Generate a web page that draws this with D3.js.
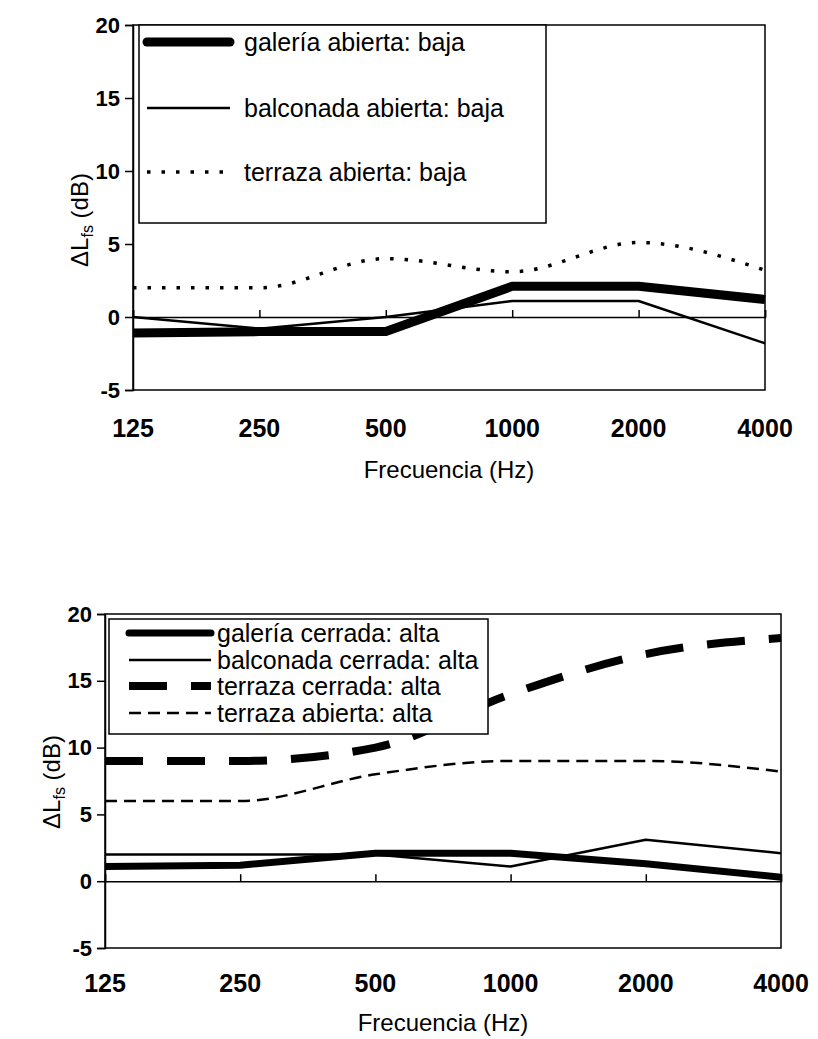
<!DOCTYPE html>
<html>
<head>
<meta charset="utf-8">
<script src="https://cdn.jsdelivr.net/npm/d3@7/dist/d3.min.js"></script>
<style>
  body { margin: 0; background: #fff; }
  svg { display: block; }
</style>
</head>
<body>
<div id="chart"></div>
<script>
// frequency bands (x categories)
var freqs = ["125", "250", "500", "1000", "2000", "4000"];
var yTicks = [-5, 0, 5, 10, 15, 20];

// top chart: low floors (baja)
var galeriaAbiertaBaja = [-1.1, -1, -1, 2.1, 2.1, 1.2];
var balconadaAbiertaBaja = [0, -0.8, 0, 1.1, 1.1, -1.8];
var terrazaAbiertaBaja = [2, 2, 4, 3.1, 5.1, 3.2];

// bottom chart: high floors (alta)
var galeriaCerradaAlta = [1.1, 1.2, 2.1, 2.1, 1.3, 0.3];
var balconadaCerradaAlta = [2, 2, 2, 1.1, 3.1, 2.1];
var terrazaCerradaAlta = [9, 9, 10, 14, 17, 18.2];
var terrazaAbiertaAlta = [6, 6, 8, 9, 9, 8.2];

var fontFamily = "'Liberation Sans', Arial, sans-serif";

var svg = d3.select("#chart").append("svg")
  .attr("width", 818)
  .attr("height", 1039);

function drawChart(params) {
  var box = params.box;
  var legendBox = params.legend;
  var series = params.series;

  var x = d3.scalePoint().domain(freqs).range([box.left, box.right]);
  var y = d3.scaleLinear().domain([-5, 20]).range([box.bottom, box.top]);

  var g = svg.append("g");

  // plot area border
  g.append("rect")
    .attr("x", box.left).attr("y", box.top)
    .attr("width", box.right - box.left).attr("height", box.bottom - box.top)
    .attr("fill", "none").attr("stroke", "#000").attr("stroke-width", 1.5);

  // y axis ticks + labels (plain hyphen for negatives, like the original)
  var yAxis = d3.axisLeft(y).tickValues(yTicks).tickSize(8).tickPadding(5)
    .tickFormat(function (d) { return String(d); });
  g.append("g")
    .attr("transform", "translate(" + box.left + ",0)")
    .call(yAxis)
    .call(function (a) {
      a.select(".domain").attr("stroke-width", 1.5);
      a.selectAll(".tick line").attr("stroke-width", 1.5);
      a.selectAll("text")
        .attr("font-family", fontFamily)
        .attr("font-size", 22)
        .attr("font-weight", "bold")
        .attr("fill", "#000");
    });

  // x axis crosses at 0, ticks upward, labels low
  var xAxis = d3.axisTop(x).tickSize(7).tickFormat("");
  g.append("g")
    .attr("transform", "translate(0," + y(0) + ")")
    .call(xAxis)
    .call(function (a) {
      a.select(".domain").attr("stroke-width", 1.5);
      a.selectAll(".tick line").attr("stroke-width", 1.5);
    });

  g.selectAll(".xlab")
    .data(freqs)
    .enter().append("text")
    .attr("x", function (d) { return x(d); })
    .attr("y", params.xLabelY)
    .attr("text-anchor", "middle")
    .attr("font-family", fontFamily)
    .attr("font-size", 25)
    .attr("font-weight", "bold")
    .text(function (d) { return d; });

  // axis titles
  g.append("text")
    .attr("x", (box.left + box.right) / 2)
    .attr("y", params.xTitleY)
    .attr("text-anchor", "middle")
    .attr("font-family", fontFamily)
    .attr("font-size", 24)
    .text("Frecuencia (Hz)");

  var yt = g.append("text")
    .attr("transform", "translate(" + (box.left - 45) + "," + params.yTitleY + ") rotate(-90)")
    .attr("text-anchor", "middle")
    .attr("font-family", fontFamily)
    .attr("font-size", 24);
  yt.append("tspan").text("\u0394L");
  yt.append("tspan").attr("font-size", 16).attr("dy", 5).text("fs");
  yt.append("tspan").attr("dy", -5).text(" (dB)");

  // lines
  series.forEach(function (s) {
    var line = d3.line()
      .x(function (d, i) { return x(freqs[i]); })
      .y(function (d) { return y(d); })
      .curve(s.smooth ? d3.curveMonotoneX : d3.curveLinear);
    g.append("path")
      .datum(s.values)
      .attr("d", line)
      .attr("fill", "none")
      .attr("stroke", "#000")
      .attr("stroke-width", s.width)
      .attr("stroke-dasharray", s.dash || null)
      .attr("stroke-linecap", s.cap || "butt")
      .attr("stroke-linejoin", "round");
  });

  // legend
  g.append("rect")
    .attr("x", legendBox.x).attr("y", legendBox.y)
    .attr("width", legendBox.w).attr("height", legendBox.h)
    .attr("fill", "#fff").attr("stroke", "#000").attr("stroke-width", 1.5);

  series.forEach(function (s, i) {
    var ly = legendBox.rows[i];
    g.append("line")
      .attr("x1", legendBox.lineX1).attr("x2", legendBox.lineX2)
      .attr("y1", ly).attr("y2", ly)
      .attr("stroke", "#000")
      .attr("stroke-width", s.width)
      .attr("stroke-dasharray", s.dash || null)
      .attr("stroke-linecap", s.legendCap || s.cap || "butt");
    g.append("text")
      .attr("x", legendBox.textX)
      .attr("y", ly)
      .attr("dy", "0.35em")
      .attr("font-family", fontFamily)
      .attr("font-size", legendBox.fontSize)
      .text(s.name);
  });
}

drawChart({
  box: { left: 133, right: 765, top: 25, bottom: 390 },
  yTitleY: 220,
  xLabelY: 437,
  xTitleY: 478,
  legend: {
    x: 139, y: 25, w: 407, h: 198,
    rows: [42, 108, 172],
    lineX1: 147, lineX2: 230, textX: 244, fontSize: 25
  },
  series: [
    { name: "galería abierta: baja", values: galeriaAbiertaBaja, width: 9, legendCap: "round" },
    { name: "balconada abierta: baja", values: balconadaAbiertaBaja, width: 2.5 },
    { name: "terraza abierta: baja", values: terrazaAbiertaBaja, width: 3.5, dash: "3.5,11", smooth: true }
  ]
});

drawChart({
  box: { left: 105, right: 781, top: 614, bottom: 948 },
  yTitleY: 782,
  xLabelY: 992,
  xTitleY: 1031,
  legend: {
    x: 109, y: 619, w: 379, h: 115,
    rows: [633, 660, 686, 713],
    lineX1: 129, lineX2: 211, textX: 217, fontSize: 25
  },
  series: [
    { name: "galería cerrada: alta", values: galeriaCerradaAlta, width: 7, legendCap: "round" },
    { name: "balconada cerrada: alta", values: balconadaCerradaAlta, width: 2.5 },
    { name: "terraza cerrada: alta", values: terrazaCerradaAlta, width: 8, dash: "38,24", smooth: true },
    { name: "terraza abierta: alta", values: terrazaAbiertaAlta, width: 2.5, dash: "12,7", smooth: true }
  ]
});
</script>
</body>
</html>
